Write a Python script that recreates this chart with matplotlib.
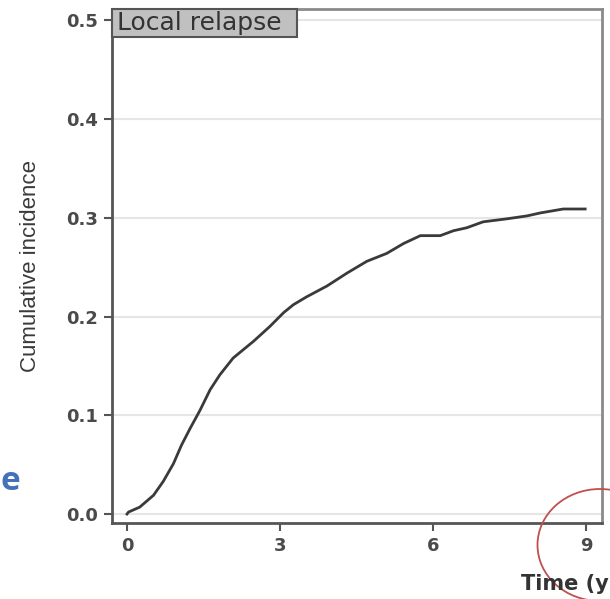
import matplotlib
matplotlib.use("Agg")
import matplotlib.pyplot as plt
from matplotlib.patches import Ellipse, Rectangle

# Data
time_years = [0.0, 0.03, 0.25, 0.52, 0.71, 0.91, 1.07, 1.24, 1.43, 1.63, 1.82, 2.08,
              2.48, 2.80, 3.07, 3.26, 3.52, 3.92, 4.31, 4.70, 5.09, 5.42, 5.75,
              6.14, 6.40, 6.66, 6.98, 7.44, 7.84, 8.10, 8.55, 8.98]
cum_incidence = [0.0, 0.002, 0.007, 0.019, 0.033, 0.051, 0.070, 0.087, 0.105, 0.126,
                 0.141, 0.158, 0.175, 0.190, 0.204, 0.212, 0.220, 0.231, 0.244,
                 0.256, 0.264, 0.274, 0.282, 0.282, 0.287, 0.290, 0.296, 0.299,
                 0.302, 0.305, 0.309, 0.309]
x_ticks = [0, 3, 6, 9]
y_ticks = [0.0, 0.1, 0.2, 0.3, 0.4, 0.5]
y_tick_labels = ["0.0", "0.1", "0.2", "0.3", "0.4", "0.5"]
panel_title = "Local relapse"
y_label = "Cumulative incidence"
x_label_visible = "Time (y"

fig = plt.figure(figsize=(6.10, 5.99), dpi=100)
ax_w_px, ax_h_px = 602 - 112, 523 - 9
ax = fig.add_axes([112/610, 1-523/599, ax_w_px/610, ax_h_px/599])

ax.plot(time_years, cum_incidence, color="#3a3a3a", lw=2.0, solid_joinstyle="round")
ax.set_xlim(-0.294, 9.31)
ax.set_ylim(-0.0091, 0.5116)
ax.set_xticks(x_ticks)
ax.set_yticks(y_ticks)
ax.set_yticklabels(y_tick_labels)
ax.yaxis.grid(True, color="#e6e6e6", lw=1.5)
ax.set_axisbelow(True)
for s in ["left", "bottom"]:
    ax.spines[s].set_color("#555555")
    ax.spines[s].set_linewidth(2.0)
for s in ["right", "top"]:
    ax.spines[s].set_color("#8a8a8a")
    ax.spines[s].set_linewidth(2.0)
ax.tick_params(axis="both", direction="out", length=6, width=1.5, color="#555555",
               labelcolor="#4a4a4a", labelsize=13, pad=4)
for lab in ax.get_xticklabels() + ax.get_yticklabels():
    lab.set_fontweight("bold")
    lab.set_family("DejaVu Sans")

ax.set_ylabel(y_label, family="Liberation Sans", fontsize=16, color="#3a3a3a", labelpad=18)

# panel label box
box_w, box_h = 185 / ax_w_px, 28 / ax_h_px
ax.add_patch(Rectangle((0, 1 - box_h), box_w, box_h, transform=ax.transAxes,
                       facecolor="#c0c0c0", edgecolor="#555555", lw=1.5, zorder=5,
                       clip_on=False))
ax.text(5 / ax_w_px, 1 - box_h / 2, panel_title, transform=ax.transAxes, ha="left",
        va="center", fontsize=18, color="#333333", family="DejaVu Sans", zorder=6)

fig.text(609/610, 1-584/599, x_label_visible, ha="right", va="center", fontsize=15,
         fontweight="bold", color="#333333", family="DejaVu Sans")
fig.text(0.5/610, 1-481/599, "e", ha="left", va="center", fontsize=24,
         fontweight="bold", color="#4472b8", family="Open Sans")

ell = Ellipse((600/610, 1-545/599), 125/610, 112/599, transform=fig.transFigure,
              fill=False, edgecolor="#c0504d", lw=1.3)
fig.patches.append(ell)

fig.savefig("out.png", dpi=100)
